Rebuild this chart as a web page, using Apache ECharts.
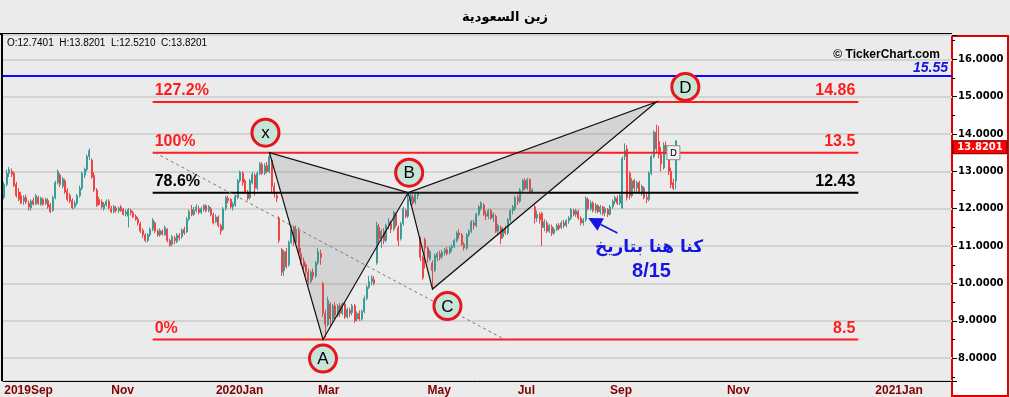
<!DOCTYPE html>
<html>
<head>
<meta charset="utf-8">
<title>زين السعودية</title>
<script src="https://cdn.jsdelivr.net/npm/echarts@6/dist/echarts.min.js"></script>
<style>
  html, body { margin: 0; padding: 0; background: #ebebeb; }
  #chart { width: 1010px; height: 397px; }
</style>
</head>
<body>
<div id="chart"></div>
<script>
// market closed days (Tadawul) inside the traded range
var holidays = ["2019-09-23", "2020-05-21", "2020-05-24", "2020-05-25", "2020-05-26", "2020-05-27",
  "2020-05-28", "2020-07-30", "2020-08-02", "2020-08-03", "2020-08-04", "2020-08-05", "2020-08-06", "2020-09-23"];
var firstDay = "2019-09-01";
var lastTradeDay = "2020-10-11";
var axisEndDay = "2021-02-01";

// month ticks shown on the time axis
var tickMonths = ["2019-09", "2019-11", "2020-01", "2020-03", "2020-05", "2020-07", "2020-09", "2020-11", "2021-01"];
var tickLabels = ["2019Sep", "Nov", "2020Jan", "Mar", "May", "Jul", "Sep", "Nov", "2021Jan"];

// daily candles [open, close, low, high]
var prices = [
  [12.30,12.65,12.25,12.72],[12.65,12.95,12.60,13.05],[12.95,13.05,12.85,13.12],[13.00,12.92,12.85,13.08],[12.95,12.62,12.58,13.00],
  [12.65,12.35,12.30,12.72],[12.45,12.25,12.20,12.55],[12.35,12.15,12.12,12.45],[12.20,12.30,12.10,12.36],[12.30,12.18,12.12,12.38],
  [12.15,12.05,11.95,12.22],[12.02,12.20,11.95,12.25],[12.22,12.12,12.08,12.30],[12.12,12.35,12.10,12.40],[12.30,12.15,12.10,12.35],
  [12.12,12.28,12.08,12.32],[12.25,12.12,12.08,12.30],[12.14,12.25,12.10,12.30],[12.22,12.05,12.00,12.28],[12.10,11.92,11.88,12.15],
  [11.95,12.30,11.92,12.35],[12.30,12.70,12.25,12.75],[12.70,13.00,12.65,13.05],[12.90,12.65,12.58,12.95],[12.60,12.80,12.55,12.85],
  [12.75,12.45,12.40,12.80],[12.48,12.25,12.20,12.55],[12.35,12.20,12.15,12.42],[12.22,12.02,11.98,12.28],[12.05,12.15,12.00,12.22],
  [12.15,12.35,12.10,12.40],[12.35,12.55,12.30,12.62],[12.55,12.95,12.50,13.00],[12.90,13.05,12.82,13.10],[13.05,13.40,13.00,13.45],
  [13.40,13.55,13.30,13.62],[13.30,12.85,12.80,13.35],[12.90,12.50,12.45,12.98],[12.50,12.10,12.05,12.55],[12.25,12.12,12.08,12.32],
  [12.18,12.05,12.00,12.25],[12.00,12.12,11.95,12.18],[12.10,12.20,12.05,12.25],[12.20,12.02,11.98,12.25],[12.00,11.92,11.88,12.08],
  [11.92,12.05,11.88,12.10],[12.02,11.95,11.90,12.08],[11.95,12.02,11.88,12.06],[12.05,11.95,11.92,12.10],[11.98,11.85,11.82,12.02],
  [11.85,11.92,11.80,11.98],[11.80,11.98,11.50,12.02],[11.95,11.90,11.82,12.00],[11.90,11.78,11.75,11.95],[11.80,11.72,11.68,11.85],
  [11.72,11.62,11.55,11.78],[11.60,11.40,11.35,11.65],[11.42,11.30,11.22,11.48],[11.30,11.15,11.10,11.35],[11.15,11.30,11.10,11.35],
  [11.30,11.45,11.25,11.50],[11.45,11.70,11.40,11.75],[11.62,11.40,11.35,11.66],[11.40,11.30,11.25,11.45],[11.30,11.42,11.25,11.48],
  [11.40,11.32,11.28,11.45],[11.30,11.50,11.28,11.55],[11.45,11.15,11.10,11.48],[11.15,11.02,10.98,11.20],[11.05,11.25,11.00,11.30],
  [11.22,11.15,11.05,11.28],[11.12,11.30,11.08,11.35],[11.28,11.22,11.15,11.35],[11.25,11.42,11.20,11.48],[11.45,11.35,11.30,11.52],
  [11.38,11.72,11.35,11.78],[11.72,11.92,11.68,11.98],[11.98,11.85,11.80,12.10],[11.85,11.95,11.80,12.05],[11.95,12.05,11.90,12.12],
  [12.00,11.90,11.85,12.08],[11.90,12.00,11.85,12.05],[11.98,12.08,11.92,12.12],[12.08,11.95,11.90,12.12],[11.95,12.05,11.90,12.10],
  [12.00,11.85,11.80,12.05],[11.85,11.62,11.58,11.90],[11.65,11.78,11.62,11.85],[11.78,11.55,11.50,11.82],[11.55,11.40,11.30,11.60],
  [11.45,12.00,11.42,12.05],[12.00,12.30,11.95,12.35],[12.28,12.22,12.15,12.35],[12.25,12.05,12.00,12.28],[12.05,12.12,11.95,12.18],
  [12.10,12.32,12.05,12.38],[12.30,12.75,12.25,12.80],[12.75,12.98,12.70,13.02],[12.95,12.70,12.62,13.00],[12.75,12.45,12.40,12.80],
  [12.45,12.28,12.22,12.50],[12.30,12.75,12.25,12.80],[12.70,12.92,12.65,12.98],[12.90,12.55,12.35,12.95],[12.55,12.95,12.50,13.00],
  [12.95,13.20,12.90,13.25],[13.18,12.95,12.90,13.25],[12.95,13.15,12.90,13.22],[13.15,13.00,12.95,13.25],[13.00,13.40,12.95,13.48],
  [13.30,12.60,12.45,13.35],[12.60,12.40,12.30,12.70],[12.35,12.28,12.18,12.45],[11.75,11.15,11.08,11.80],[10.90,10.30,10.20,10.95],
  [10.35,10.85,10.20,10.90],[10.85,10.45,10.40,10.95],[10.50,11.10,10.45,11.15],[11.10,11.45,11.05,11.55],[11.50,11.10,11.00,11.55],
  [11.10,11.45,11.05,11.55],[11.40,10.80,10.75,11.50],[10.80,10.60,10.50,10.95],[10.60,10.45,10.35,10.70],[10.50,10.30,10.20,10.55],
  [10.30,10.05,9.95,10.40],[10.05,10.30,10.00,10.35],[10.30,10.20,10.10,10.40],[10.20,10.55,10.15,10.60],[10.55,10.85,10.50,10.95],
  [10.80,10.70,10.50,10.90],[10.00,9.20,9.10,10.05],[9.20,8.90,8.55,9.30],[8.90,9.55,8.85,9.65],[9.45,9.05,8.85,9.50],
  [9.05,9.40,8.95,9.45],[9.40,9.15,9.05,9.50],[9.15,9.40,9.10,9.45],[9.40,9.20,9.10,9.48],[9.20,9.45,9.15,9.50],
  [9.45,9.10,9.05,9.50],[9.10,9.30,9.05,9.35],[9.28,9.20,9.10,9.35],[9.22,9.40,9.15,9.45],[9.40,9.00,8.95,9.45],
  [9.05,9.20,8.98,9.25],[9.20,9.05,9.00,9.28],[9.05,9.25,9.00,9.30],[9.25,9.60,9.20,9.68],[9.60,9.90,9.55,9.95],
  [9.90,10.05,9.85,10.20],[10.05,10.15,9.95,10.22],[10.10,10.00,9.95,10.20],[10.55,11.55,10.50,11.65],[11.50,11.20,11.10,11.60],
  [11.20,11.40,10.95,11.45],[11.40,11.15,11.05,11.48],[11.15,11.55,11.10,11.60],[11.55,11.65,11.45,11.75],[11.60,11.45,11.35,11.68],
  [11.45,11.90,11.40,11.95],[11.85,11.55,11.50,11.90],[11.50,11.15,11.00,11.55],[11.20,11.60,11.15,11.65],[11.60,12.00,11.55,12.05],
  [11.95,11.80,11.75,12.00],[11.80,12.25,11.75,12.43],[12.20,12.35,12.10,12.40],[12.30,12.15,12.10,12.38],[12.18,12.38,12.12,12.42],
  [12.35,12.40,12.25,12.45],[11.20,10.70,10.60,11.25],[10.70,10.15,10.10,10.75],[11.18,10.95,10.40,11.22],[10.95,10.70,10.55,11.00],
  [10.65,10.85,10.60,10.90],[10.55,10.35,9.88,10.62],[10.35,10.75,10.30,10.80],[10.70,10.80,10.60,10.85],[10.80,10.70,10.62,10.88],
  [10.72,10.85,10.65,10.90],[10.82,10.90,10.75,10.95],[10.90,10.80,10.75,10.98],[10.82,10.95,10.78,11.00],[10.95,11.00,10.85,11.05],
  [11.00,11.15,10.95,11.20],[11.15,11.35,11.10,11.40],[11.35,11.30,11.20,11.45],[11.30,11.05,11.00,11.35],[11.05,10.95,10.88,11.10],
  [10.95,11.30,10.90,11.35],[11.30,11.40,11.25,11.45],[11.40,11.65,11.35,11.70],[11.62,11.55,11.45,11.70],[11.55,11.85,11.50,11.90],
  [11.85,12.05,11.80,12.10],[12.00,12.15,11.95,12.20],[12.10,11.85,11.80,12.15],[11.85,11.80,11.70,11.95],[11.80,11.95,11.72,12.00],
  [11.95,11.75,11.70,12.00],[11.75,11.85,11.65,11.90],[11.80,11.40,11.35,11.85],[11.40,11.55,11.30,11.60],[11.50,11.20,11.05,11.55],
  [11.25,11.45,11.20,11.50],[11.45,11.35,11.30,11.55],[11.35,11.70,11.30,11.75],[11.70,11.95,11.65,12.00],[11.95,12.05,11.85,12.10],
  [12.00,12.30,11.95,12.35],[12.30,12.20,12.10,12.38],[12.20,12.50,12.15,12.55],[12.50,12.75,12.45,12.80],[12.75,12.55,12.50,12.82],
  [12.55,12.78,12.50,12.82],[12.78,12.45,12.40,12.82],[12.45,12.50,12.40,12.55],[12.05,11.75,11.60,12.10],[11.75,11.85,11.65,11.95],
  [11.85,11.70,11.60,11.90],[11.88,11.50,11.00,11.92],[11.50,11.65,11.40,11.72],[11.62,11.40,11.35,11.68],[11.40,11.55,11.35,11.60],
  [11.52,11.35,11.27,11.58],[11.35,11.45,11.30,11.50],[11.45,11.55,11.40,11.60],[11.55,11.48,11.42,11.62],[11.50,11.62,11.45,11.68],
  [11.62,11.55,11.48,11.70],[11.55,11.68,11.50,11.72],[11.68,11.75,11.60,11.80],[11.75,11.98,11.70,12.02],[11.95,11.85,11.80,12.00],
  [11.85,11.95,11.78,12.00],[11.92,11.75,11.70,11.98],[11.75,11.62,11.55,11.80],[11.62,11.70,11.55,11.75],[11.70,12.28,11.65,12.33],
  [12.25,12.00,11.95,12.30],[12.00,12.15,11.95,12.22],[12.15,11.95,11.90,12.20],[11.95,12.10,11.88,12.15],[12.08,11.92,11.88,12.12],
  [11.92,12.05,11.85,12.10],[12.05,11.88,11.82,12.08],[11.90,12.00,11.80,12.05],[11.98,11.85,11.78,12.02],[11.85,12.05,11.82,12.10],
  [12.05,12.20,12.00,12.25],[12.20,12.30,12.12,12.35],[12.28,12.15,12.10,12.35],[12.15,12.35,12.10,12.40],[12.02,13.35,12.00,13.40],
  [13.40,13.55,13.30,13.75],[13.60,12.30,12.22,13.70],[12.95,12.35,12.25,13.00],[12.35,12.75,12.30,12.82],[12.75,12.55,12.45,12.80],
  [12.55,12.70,12.45,12.75],[12.70,12.45,12.40,12.75],[12.45,12.60,12.35,12.65],[12.55,12.30,12.25,12.60],[12.30,12.25,12.15,12.40],
  [12.25,12.95,12.20,13.00],[12.95,13.40,12.90,13.45],[13.40,14.05,13.35,14.10],[14.05,13.60,13.50,14.25],[13.80,13.45,13.35,14.22],
  [13.45,13.20,13.00,13.65],[13.10,13.70,13.05,13.78],[13.70,13.55,13.45,13.80],[13.45,13.00,12.90,13.50],[13.00,12.65,12.55,13.10],
  [12.70,12.55,12.50,12.80],[12.7401,13.8201,12.5210,13.8201]
];

// XABCD harmonic pattern (candle index, price)
var patternNames = ["x", "A", "B", "C", "D"];
var patternIdx = [109, 131, 166, 176, 268];
var patternValues = [13.5, 8.5, 12.43, 9.85, 14.86];

// fibonacci levels of the XA leg
var fibLevels = [14.86, 13.5, 12.43, 8.5];
var fibPercent = ["127.2%", "100%", "78.6%", "0%"];
var fibText = ["14.86", "13.5", "12.43", "8.5"];
var fibFrom = 61, fibTo = 351;

var targetLevel = 15.55;
var trendFrom = [62, 13.5], trendTo = [206, 8.49];

// note: arrow from tail to tip
var noteLines = ["كنا هنا بتاريخ", "8/15"];
var arrowTip = [239.5, 11.75], arrowTail = [252.3, 11.35];
var notePos = [[265.4, 10.95], [266.3, 10.31]];
var markerIdx = 275, markerValue = 13.5;

// ---- styling ----
var UP = "#3a9d97", DOWN = "#f06a6a";
var badgeOffset = [[-4, -20], [0, 19], [1, -20], [15, 17], [29, -15]];
var fibColors = ["#ff1c1c", "#ff1c1c", "#000000", "#ff1c1c"];
var noteFonts = ["bold 17px 'DejaVu Sans'", "bold 20px 'Liberation Sans'"];

function buildDates() {
  var out = [];
  var d = new Date(firstDay + "T00:00:00Z");
  var lastTrade = new Date(lastTradeDay + "T00:00:00Z").getTime();
  var end = new Date(axisEndDay + "T00:00:00Z").getTime();
  while (d.getTime() <= end) {
    var s = d.toISOString().slice(0, 10);
    var wd = d.getUTCDay();
    if (d.getTime() > lastTrade || (wd !== 5 && wd !== 6 && holidays.indexOf(s) < 0)) out.push(s);
    d.setUTCDate(d.getUTCDate() + 1);
  }
  return out;
}
var dates = buildDates();

var tickAt = {};
tickMonths.forEach(function (m, k) {
  for (var i = 0; i < dates.length; i++) {
    if (dates[i].slice(0, 7) === m) { tickAt[i] = tickLabels[k]; break; }
  }
});
function isTick(i) { return tickAt[i] !== undefined; }

var last = prices[prices.length - 1];

function renderNotes(params, api) {
  var cs = params.coordSys;
  var g = [];
  function at(i, v) { return api.coord([i, v]); }

  // target line
  var ty = at(0, targetLevel)[1];
  g.push({ type: "line", shape: { x1: cs.x, y1: ty, x2: cs.x + cs.width, y2: ty },
    style: { stroke: "#0b0bff", lineWidth: 2 } });
  g.push({ type: "text", style: { text: targetLevel.toFixed(2), x: cs.x + cs.width - 4, y: ty - 1,
    align: "right", verticalAlign: "bottom", fill: "#1414e0", font: "italic bold 14px 'Liberation Sans'" } });

  // fib levels
  fibLevels.forEach(function (lv, k) {
    var a = at(fibFrom, lv), b = at(fibTo, lv);
    g.push({ type: "line", shape: { x1: a[0], y1: a[1], x2: b[0], y2: b[1] },
      style: { stroke: fibColors[k], lineWidth: 2 } });
    g.push({ type: "text", style: { text: fibPercent[k], x: a[0] + 2, y: a[1] - 3, align: "left",
      verticalAlign: "bottom", fill: fibColors[k], font: "bold 16px 'Liberation Sans'" } });
    g.push({ type: "text", style: { text: fibText[k], x: b[0] - 3, y: b[1] - 3, align: "right",
      verticalAlign: "bottom", fill: fibColors[k], font: "bold 16px 'Liberation Sans'" } });
  });

  // dashed trend line
  var t1 = at(trendFrom[0], trendFrom[1]), t2 = at(trendTo[0], trendTo[1]);
  g.push({ type: "line", shape: { x1: t1[0], y1: t1[1], x2: t2[0], y2: t2[1] },
    style: { stroke: "#7a7a7a", lineWidth: 1, lineDash: [3, 3] } });

  // XAB and BCD triangles
  var P = patternIdx.map(function (i, k) { return at(i, patternValues[k]); });
  [[0, 1, 2], [2, 3, 4]].forEach(function (tri) {
    g.push({ type: "polygon", shape: { points: tri.map(function (k) { return P[k]; }) },
      style: { fill: "rgba(120,120,120,0.2)", stroke: "#111", lineWidth: 1.2 } });
  });

  // letter badges
  P.forEach(function (p, k) {
    var cx = p[0] + badgeOffset[k][0], cy = p[1] + badgeOffset[k][1];
    g.push({ type: "circle", shape: { cx: cx, cy: cy, r: 13.5 },
      style: { fill: "#c6e4d8", stroke: "#e8141c", lineWidth: 3 } });
    g.push({ type: "text", style: { text: patternNames[k], x: cx, y: cy + 1, align: "center",
      verticalAlign: "middle", fill: "#000", font: "17px 'Liberation Sans'" } });
  });

  // arrow
  var tip = at(arrowTip[0], arrowTip[1]), tail = at(arrowTail[0], arrowTail[1]);
  var dx = tip[0] - tail[0], dy = tip[1] - tail[1], len = Math.sqrt(dx * dx + dy * dy);
  var ux = dx / len, uy = dy / len, bx = tip[0] - ux * 14, by = tip[1] - uy * 14;
  g.push({ type: "line", shape: { x1: bx, y1: by, x2: tail[0], y2: tail[1] },
    style: { stroke: "#1414e6", lineWidth: 1.5 } });
  g.push({ type: "polygon", shape: { points: [tip, [bx - uy * 7, by + ux * 7], [bx + uy * 7, by - ux * 7]] },
    style: { fill: "#1414e6" } });

  noteLines.forEach(function (t, k) {
    var p = at(notePos[k][0], notePos[k][1]);
    g.push({ type: "text", style: { text: t, x: p[0], y: p[1], align: "center", verticalAlign: "middle",
      fill: "#1414e6", font: noteFonts[k] } });
  });

  // small marker box at the last bars
  var m = at(markerIdx, markerValue);
  g.push({ type: "rect", shape: { x: m[0] - 6.5, y: m[1] - 7, width: 13, height: 14 },
    style: { fill: "#f2f2f2", stroke: "#8c8c8c", lineWidth: 1 } });
  g.push({ type: "text", style: { text: "D", x: m[0], y: m[1] + 1, align: "center", verticalAlign: "middle",
    fill: "#000", font: "9px 'DejaVu Sans'" } });

  // last price tag on the axis
  var py = at(0, last[1])[1];
  g.push({ type: "rect", shape: { x: cs.x + cs.width + 1, y: py, width: 54, height: 13 },
    style: { fill: "#ff0000", stroke: "#600", lineWidth: 1 } });
  g.push({ type: "text", style: { text: last[1].toFixed(4), x: cs.x + cs.width + 28, y: py + 7,
    align: "center", verticalAlign: "middle", fill: "#fff", font: "bold 10px 'DejaVu Sans'" } });

  return { type: "group", children: g };
}

var chart = echarts.init(document.getElementById("chart"));
chart.setOption({
  animation: false,
  backgroundColor: "#ebebeb",
  grid: { left: 3, right: 58, top: 35, bottom: 16 },
  graphic: [
    { type: "rect", z: -1, shape: { x: 952, y: 36, width: 56, height: 360 },
      style: { fill: "#fff", stroke: "#e00000", lineWidth: 2 } },
    { type: "line", shape: { x1: 0, y1: 34, x2: 952, y2: 34 }, style: { stroke: "#000", lineWidth: 2 } },
    { type: "line", shape: { x1: 2, y1: 34, x2: 2, y2: 381 }, style: { stroke: "#000", lineWidth: 2 } },
    { type: "text", style: { text: "زين السعودية", x: 505, y: 18, align: "center", verticalAlign: "middle",
      fill: "#000", font: "bold 13px 'DejaVu Sans'" } },
    { type: "text", style: { text: "O:" + last[0].toFixed(4) + "  H:" + last[3].toFixed(4) + "  L:" +
      last[2].toFixed(4) + "  C:" + last[1].toFixed(4), x: 7, y: 43, verticalAlign: "middle",
      fill: "#000", font: "10px 'Liberation Sans'" } },
    { type: "text", style: { text: "© TickerChart.com", x: 940, y: 55, align: "right", verticalAlign: "middle",
      fill: "#000", font: "bold 12px 'Liberation Sans'" } }
  ],
  xAxis: {
    type: "category",
    data: dates,
    boundaryGap: true,
    axisLine: { lineStyle: { color: "#000", width: 1 } },
    axisTick: { interval: isTick, inside: true, length: 5, lineStyle: { color: "#aaa" } },
    axisLabel: {
      interval: isTick,
      formatter: function (v, i) { return tickAt[i] || ""; },
      align: "left", margin: 4, color: "#800000",
      fontFamily: "'Liberation Sans Narrow', 'Liberation Sans'", fontSize: 12, fontWeight: "bold"
    },
    splitLine: { show: false }
  },
  yAxis: {
    type: "value",
    position: "right",
    min: 7.39, max: 16.65,
    minInterval: 1, maxInterval: 1,
    axisLine: { show: false },
    axisTick: { show: true, length: 5, lineStyle: { color: "#000" } },
    minorTick: { show: true, splitNumber: 2, length: 3, lineStyle: { color: "#000" } },
    axisLabel: {
      margin: 6, showMinLabel: false, showMaxLabel: false,
      formatter: function (v) { return v.toFixed(4); },
      color: "#000", fontFamily: "'DejaVu Sans'", fontSize: 10, fontWeight: "bold"
    },
    splitLine: { lineStyle: { color: "#d3d3d3", width: 2 } }
  },
  series: [
    {
      type: "candlestick",
      data: prices,
      barWidth: 1.5,
      z: 2,
      itemStyle: { color: UP, color0: DOWN, borderColor: UP, borderColor0: "#f04444", borderWidth: 1 }
    },
    {
      type: "custom",
      data: [0],
      z: 3,
      silent: true,
      renderItem: renderNotes
    }
  ]
});
</script>
</body>
</html>
